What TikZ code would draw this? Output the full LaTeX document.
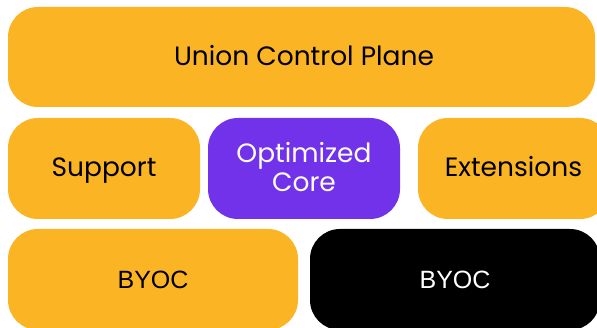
\documentclass[tikz,border=0pt]{standalone}
\usepackage{fontspec}
\setmainfont{Poppins}
\newfontfamily\byocfont{Liberation Sans}
\definecolor{uorange}{HTML}{FBB423}
\definecolor{upurple}{HTML}{7232EA}
\begin{document}
\begin{tikzpicture}[x=1pt,y=-1pt,
  blockbox/.style={rounded corners=30pt, inner sep=0pt},
  orangebox/.style={blockbox, fill=uorange},
  purplebox/.style={blockbox, fill=upurple},
  blackbox/.style={blockbox, fill=black},
  label/.style={anchor=base, inner sep=0pt, font=\fontsize{26.5}{28.7}\selectfont},
  byoclabel/.style={anchor=base, inner sep=0pt, font=\byocfont\fontsize{25}{28}\selectfont}]
\useasboundingbox (0,0) rectangle (597,328);
\clip (0,0) rectangle (597,328);
\node[orangebox, minimum width=587pt, minimum height=100pt] (top) at (301.5,57) {};
\node[orangebox, minimum width=192pt, minimum height=101pt] (support) at (104,168.5) {};
\node[purplebox, minimum width=192pt, minimum height=101pt] (core) at (304,168.5) {};
\node[orangebox, minimum width=192pt, minimum height=101pt] (ext) at (514,168.5) {};
\node[orangebox, minimum width=290pt, minimum height=101pt] (byoca) at (153,279.5) {};
\node[blackbox, minimum width=290pt, minimum height=101pt] (byocb) at (455,279.5) {};
\node[label, text=black] (toplbl) at (304,65.7) {Union Control Plane};
\node[label, text=black] (supportlbl) at (104,176.7) {Support};
\node[label, text=white] (corelbla) at (304,163) {Optimized};
\node[label, text=white] (corelblb) at (304,191.7) {Core};
\node[label, text=black] (extlbl) at (513.5,176.7) {Extensions};
\node[byoclabel, text=black] (byocalbl) at (153,289) {BYOC};
\node[byoclabel, text=white] (byocblbl) at (455,289) {BYOC};
\end{tikzpicture}
\end{document}
